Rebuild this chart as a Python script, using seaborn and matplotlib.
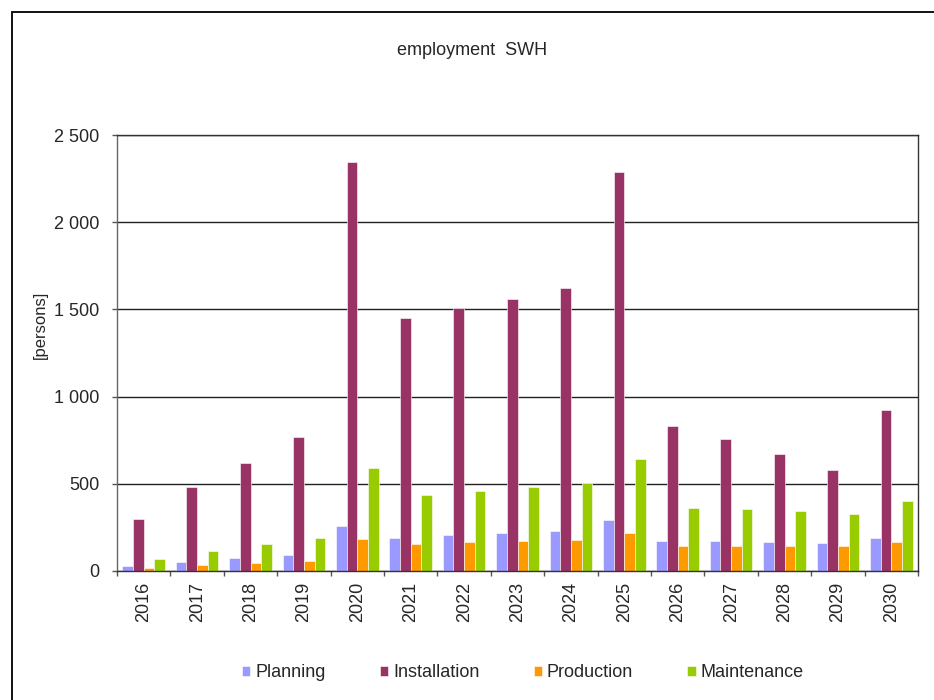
import pandas as pd
import matplotlib
matplotlib.use('Agg')
import matplotlib.pyplot as plt
import seaborn as sns
from matplotlib.ticker import FuncFormatter, FixedLocator
from matplotlib.patches import Rectangle

# --- data ---
years = [str(y) for y in range(2016, 2031)]
planning = [26, 53, 75, 94, 259, 191, 205, 218, 232, 291, 172, 172, 164, 159, 191]
installation = [297, 483, 621, 766, 2344, 1450, 1510, 1562, 1622, 2286, 833, 759, 672, 580, 923]
production = [15, 34, 48, 59, 186, 153, 164, 172, 178, 218, 145, 145, 145, 145, 164]
maintenance = [67, 113, 153, 191, 588, 437, 456, 483, 507, 640, 362, 356, 343, 329, 402]

series_names = ['Planning', 'Installation', 'Production', 'Maintenance']
colors = ['#9999FF', '#993366', '#FF9900', '#99CC00']

df = pd.DataFrame({'year': years, 'Planning': planning, 'Installation': installation,
                   'Production': production, 'Maintenance': maintenance})
df_long = df.melt(id_vars='year', var_name='kind', value_name='persons')

sns.set_style('white')
plt.rcParams['font.family'] = ['Liberation Sans', 'DejaVu Sans']

fig = plt.figure(figsize=(9.34, 7), dpi=100)
ax = fig.add_axes([0.1253, 0.1843, 0.8576, 0.6228])

sns.barplot(data=df_long, x='year', y='persons', hue='kind', hue_order=series_names,
            palette=colors, width=0.8, edgecolor='white', linewidth=0.4,
            saturation=1, ax=ax, legend=True)

ax.set_ylim(0, 2500)
ax.set_xlim(-0.5, len(years) - 0.5)
ax.set_yticks([0, 500, 1000, 1500, 2000, 2500])
ax.yaxis.set_major_formatter(FuncFormatter(lambda v, p: f'{int(v):,}'.replace(',', ' ')))
ax.yaxis.grid(True, color='#222222', linewidth=1.0)
ax.set_axisbelow(True)

for s in ax.spines.values():
    s.set_visible(True)
    s.set_color('#333333')
    s.set_linewidth(1.0)
ax.spines['left'].set_color('#666666')

ax.tick_params(axis='y', direction='out', length=3.6, width=1, color='#555555',
               labelsize=13, pad=9, left=True)
ax.tick_params(axis='x', which='major', length=0, labelsize=13, labelrotation=90, pad=8)
ax.xaxis.set_minor_locator(FixedLocator([i - 0.5 for i in range(len(years) + 1)]))
ax.tick_params(axis='x', which='minor', direction='out', length=3.6, width=1,
               color='#555555', bottom=True)

ax.set_xlabel('')
ax.set_ylabel('[persons]', fontsize=12)
ax.yaxis.set_label_coords(-0.086, 0.564)

fig.text(0.505, 0.928, 'employment  SWH', ha='center', va='center', fontsize=13)

handles, labels = ax.get_legend_handles_labels()
ax.legend(handles, labels, loc='center', bbox_to_anchor=(0.560, 0.039),
          bbox_transform=fig.transFigure, ncol=4, frameon=False, fontsize=13,
          handlelength=0.45, handleheight=0.45, handletextpad=0.28, columnspacing=3.0)

fig.patches.append(Rectangle((0.0128, -0.01), 1.0, 0.993, transform=fig.transFigure,
                             fill=False, edgecolor='black', linewidth=1.3))

fig.savefig('out.png', dpi=100)
